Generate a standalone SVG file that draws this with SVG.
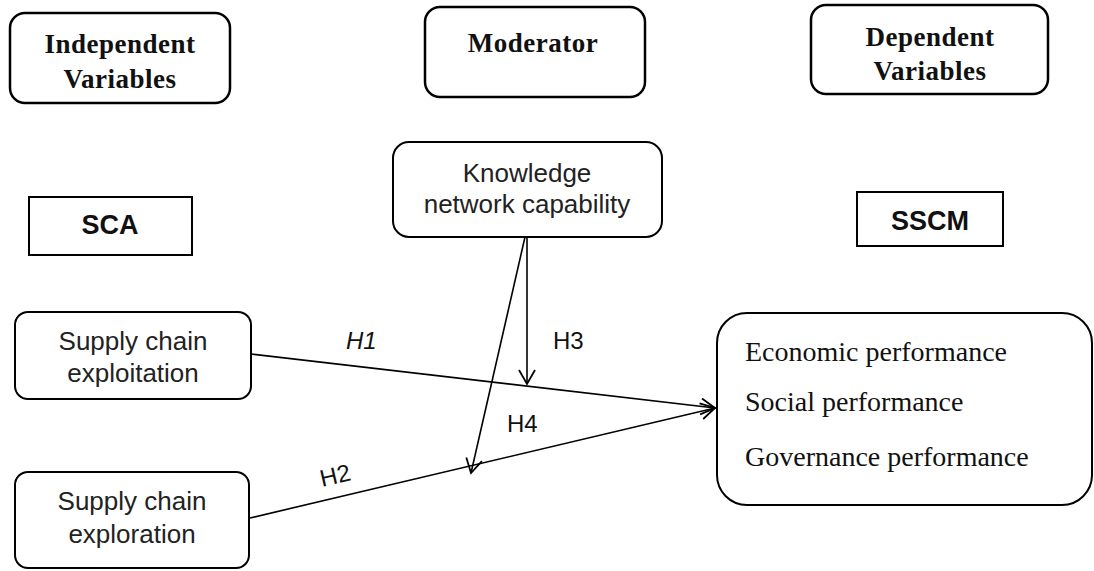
<svg xmlns="http://www.w3.org/2000/svg" width="1094" height="571" viewBox="0 0 1094 571">
<style>
.hdr{fill:#fff;stroke:#000;stroke-width:2.5}
.box{fill:#fff;stroke:#000;stroke-width:2}
.ht{font-family:"Liberation Serif",serif;font-weight:bold;font-size:27px;letter-spacing:0.5px;fill:#111;text-anchor:middle}
.st{font-family:"Liberation Sans",sans-serif;font-weight:bold;font-size:27px;fill:#111;text-anchor:middle}
.nt{font-family:"Liberation Sans",sans-serif;font-size:26px;fill:#222;text-anchor:middle}
.rt{font-family:"Liberation Serif",serif;font-size:28px;fill:#111}
.lb{font-family:"Liberation Sans",sans-serif;font-size:24px;fill:#111}
.ln{stroke:#000;stroke-width:1.6;fill:none}
</style>
<defs>
<marker id="arr" markerUnits="userSpaceOnUse" markerWidth="20" markerHeight="20" viewBox="0 0 20 20" refX="17" refY="10" orient="auto">
<path d="M3,2 L17,10 L3,18" fill="none" stroke="#000" stroke-width="1.8"/>
</marker>
</defs>
<rect width="1094" height="571" fill="#fff"/>
<g id="hdr-independent">
<rect class="hdr" x="10" y="13" width="220" height="90" rx="15"/>
<text class="ht" x="120" y="53">Independent</text>
<text class="ht" x="120" y="88">Variables</text>
</g>
<g id="hdr-moderator">
<rect class="hdr" x="425" y="7" width="220" height="90" rx="15"/>
<text class="ht" x="533" y="52">Moderator</text>
</g>
<g id="hdr-dependent">
<rect class="hdr" x="811" y="5" width="237" height="89" rx="15"/>
<text class="ht" x="930" y="46">Dependent</text>
<text class="ht" x="930" y="80">Variables</text>
</g>
<g id="sca">
<rect class="box" x="29" y="197" width="163" height="58"/>
<text class="st" x="110" y="234">SCA</text>
</g>
<g id="sscm">
<rect class="box" x="857" y="192" width="146" height="54"/>
<text class="st" x="930" y="230">SSCM</text>
</g>
<g id="knowledge">
<rect class="box" x="393" y="142" width="269" height="95" rx="16"/>
<text class="nt" x="527" y="182">Knowledge</text>
<text class="nt" x="527" y="213">network capability</text>
</g>
<g id="exploitation">
<rect class="box" x="15" y="312" width="236" height="87" rx="13"/>
<text class="nt" x="133" y="350">Supply chain</text>
<text class="nt" x="133" y="382">exploitation</text>
</g>
<g id="exploration">
<rect class="box" x="15" y="472" width="234" height="96" rx="13"/>
<text class="nt" x="132" y="510">Supply chain</text>
<text class="nt" x="132" y="543">exploration</text>
</g>
<g id="performance">
<rect class="box" x="717" y="313" width="375" height="192" rx="30"/>
<text class="rt" x="745" y="361">Economic performance</text>
<text class="rt" x="745" y="411">Social performance</text>
<text class="rt" x="745" y="466">Governance performance</text>
</g>
<g id="connectors">
<line class="ln" x1="251" y1="354" x2="715" y2="408" marker-end="url(#arr)"/>
<line class="ln" x1="250" y1="518" x2="715" y2="408" marker-end="url(#arr)"/>
<line class="ln" x1="527" y1="237" x2="527" y2="384" marker-end="url(#arr)"/>
<line class="ln" x1="525" y1="237" x2="471" y2="473" marker-end="url(#arr)"/>
<text class="lb" x="346" y="349" font-style="italic">H1</text>
<text class="lb" x="553" y="349">H3</text>
<text class="lb" x="507" y="432">H4</text>
<text class="lb" x="0" y="0" transform="translate(322,487) rotate(-13)">H2</text>
</g>
</svg>
